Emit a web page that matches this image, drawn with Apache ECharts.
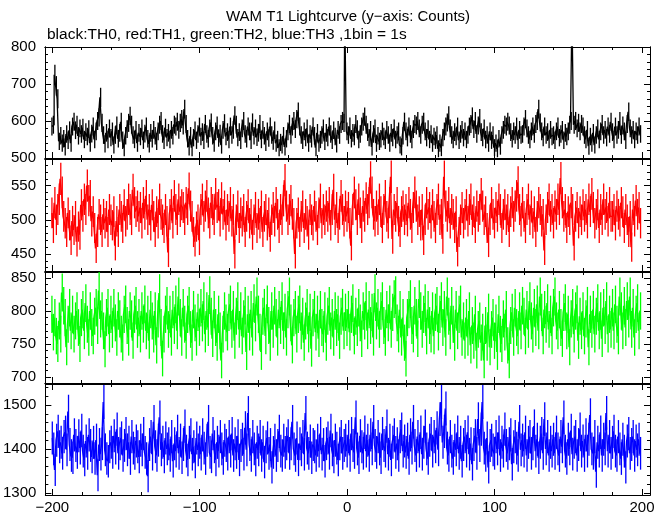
<!DOCTYPE html>
<html><head><meta charset="utf-8">
<script src="https://cdn.jsdelivr.net/npm/echarts@6/dist/echarts.min.js"></script>
<style>html,body{margin:0;padding:0;background:#fff}#c{width:669px;height:515px}</style>
</head><body><div id="c"></div>
<script>
// ---- data: counts per 1 s bin (bin centres start at -200 s); error bars = sqrt(counts) ----
const binStart = -200, binWidth = 1;
const th0 = [
585,590,725,695,660,545,560,540,552,530,565,548,575,540,585,598,575,590,560,580,
565,582,550,570,558,578,540,566,585,550,572,600,610,664,595,562,538,568,550,580,
555,572,535,562,588,552,568,598,548,528,560,578,595,614,590,562,550,576,540,568,
558,580,548,566,585,552,538,568,552,576,560,545,572,590,600,565,548,582,555,568,
550,576,560,590,585,598,576,595,605,588,632,592,552,530,560,528,555,575,548,565,
585,558,570,548,592,565,552,580,596,560,540,572,588,554,566,535,576,594,558,570,
550,585,562,576,615,590,555,570,548,580,600,565,552,585,572,548,596,560,580,556,
568,592,550,576,560,542,572,554,585,562,546,575,540,550,528,542,535,560,530,552,
572,592,562,585,600,578,605,625,585,562,548,572,555,580,540,565,552,585,560,528,
568,540,550,562,580,545,568,555,585,565,548,575,558,538,576,562,592,600,595,900,
572,562,585,552,568,558,592,578,550,565,585,598,612,590,570,555,576,530,565,580,
540,560,545,552,572,558,548,576,562,540,568,555,580,550,562,572,535,530,560,598,
572,555,585,565,550,578,592,588,600,580,562,590,598,572,555,578,550,565,540,558,
548,562,525,540,528,555,572,585,596,615,580,562,550,570,558,585,548,565,576,555,
572,550,562,585,592,612,578,600,565,588,608,570,555,580,550,562,540,572,548,562,
528,540,525,552,532,562,576,590,585,598,588,570,552,572,562,585,548,576,562,565,
585,605,580,562,550,572,585,565,592,600,632,596,572,555,585,562,570,550,576,558,
562,548,572,585,555,565,576,548,568,558,572,590,600,900,590,600,580,595,572,592,
585,562,550,576,532,558,540,568,535,562,580,550,572,592,562,576,555,585,565,598,
570,550,585,562,576,600,562,588,572,548,592,625,580,562,576,550,572,562,585,565];
const th1 = [
510,488,525,500,515,530,560,540,505,495,482,510,492,470,498,485,505,468,490,478,
522,505,530,515,550,528,535,498,512,488,458,482,508,500,482,508,495,505,482,515,
500,492,512,462,498,482,515,505,488,522,498,508,530,515,500,544,525,512,520,505,
518,495,525,508,535,500,515,492,522,505,482,512,495,530,508,500,488,515,498,452,
508,522,495,535,515,500,530,512,522,518,500,525,515,546,520,505,482,468,490,500,
470,515,530,505,520,535,510,495,525,515,500,538,518,522,498,532,508,520,492,515,
505,525,498,515,450,500,520,488,510,498,515,482,505,522,495,508,478,500,518,488,
508,495,520,482,505,515,492,510,475,500,518,498,525,508,488,515,500,528,558,520,
500,515,528,508,495,450,495,510,482,505,520,488,508,498,478,515,500,492,520,505,
485,510,530,495,515,500,520,505,525,492,515,544,500,518,488,508,535,515,498,520,
505,518,495,462,515,540,522,500,530,510,488,520,505,532,515,525,562,540,508,498,
520,500,530,512,488,515,535,505,495,525,563,472,515,505,525,498,482,512,520,500,
515,498,525,508,488,518,540,520,500,512,492,515,470,500,525,508,518,495,522,505,
488,515,530,500,508,472,563,520,505,525,495,515,508,488,512,453,482,500,518,495,
508,522,498,515,530,500,512,488,520,505,515,538,520,500,512,488,467,500,525,508,
495,518,505,530,515,488,508,522,500,515,482,512,525,505,520,535,555,515,498,525,
505,488,515,530,500,520,495,512,482,505,525,515,498,508,455,500,518,530,505,515,
495,520,508,530,515,561,525,505,515,488,512,500,525,515,462,505,518,495,512,500,
522,505,515,495,530,512,538,518,495,508,522,488,515,500,530,508,518,498,525,505,
505,515,492,520,508,498,525,512,488,515,500,482,505,460,515,498,528,508,518,495];
const th2 = [
795,768,790,762,750,785,765,828,808,790,745,780,805,770,795,765,785,800,775,750,
790,802,770,812,780,760,800,775,762,792,805,778,831,788,800,770,742,790,805,765,
795,772,805,782,760,800,788,765,752,795,810,778,760,800,788,755,795,808,772,790,
765,800,780,810,770,795,755,802,785,765,800,748,788,827,775,728,765,795,808,772,
795,760,802,778,810,770,822,790,760,805,780,755,795,808,772,752,802,782,760,798,
775,805,782,815,765,800,775,824,792,758,802,775,752,795,770,725,765,800,782,768,
798,810,772,802,755,792,815,772,800,762,788,808,738,795,768,802,760,812,782,822,
795,768,738,792,805,762,810,778,752,800,772,808,790,760,802,778,815,770,798,760,
802,822,782,748,790,802,765,795,810,770,792,752,785,805,765,798,743,790,802,768,
795,758,802,775,765,800,752,792,808,770,790,760,800,775,795,755,792,805,770,798,
775,802,768,795,812,762,792,775,805,782,758,800,785,815,770,802,778,798,760,827,
785,805,772,800,815,778,760,802,782,810,772,798,818,824,782,765,802,760,790,752,
728,790,802,818,778,765,808,790,758,818,800,772,795,812,762,802,778,765,800,762,
798,808,768,795,815,775,802,760,822,792,770,808,780,752,802,770,795,810,760,785,
755,790,760,800,748,778,755,795,740,772,785,752,768,725,778,752,798,745,772,790,
755,782,738,795,765,750,788,768,802,748,725,778,798,760,805,775,762,800,770,808,
792,762,802,772,815,785,765,805,775,810,770,822,798,762,802,780,812,772,795,762,
805,822,785,770,802,775,758,798,812,770,795,745,788,805,765,800,810,755,792,770,
800,762,788,808,745,795,772,802,765,792,812,770,800,758,805,778,815,765,795,772,
805,770,810,780,762,822,800,770,808,775,815,788,822,772,805,760,795,812,770,800];
const th3 = [
1425,1400,1352,1420,1440,1405,1415,1390,1428,1438,1398,1485,1410,1385,1380,1432,1408,1392,1430,1402,
1442,1395,1375,1418,1390,1432,1408,1382,1415,1378,1420,1340,1410,1388,1412,1507,1398,1378,1372,1405,
1415,1392,1430,1402,1445,1390,1412,1425,1385,1408,1435,1398,1415,1378,1428,1402,1390,1418,1405,1382,
1420,1398,1435,1392,1378,1338,1410,1428,1388,1462,1405,1385,1420,1472,1398,1415,1382,1425,1400,1412,
1385,1428,1372,1412,1395,1440,1390,1420,1380,1410,1452,1395,1375,1415,1432,1388,1405,1370,1425,1398,
1415,1388,1432,1402,1378,1420,1462,1392,1382,1435,1405,1375,1415,1395,1428,1400,1378,1420,1408,1388,
1428,1395,1435,1385,1412,1392,1430,1375,1408,1422,1388,1448,1398,1482,1410,1385,1428,1400,1375,1415,
1398,1428,1385,1415,1370,1405,1425,1390,1410,1358,1392,1420,1385,1408,1440,1395,1385,1420,1392,1412,
1430,1390,1412,1462,1400,1385,1425,1375,1412,1398,1428,1388,1482,1402,1390,1418,1380,1410,1405,1385,
1420,1395,1435,1388,1410,1372,1412,1425,1390,1442,1398,1382,1420,1402,1375,1412,1428,1390,1408,1420,
1395,1428,1385,1435,1408,1392,1472,1400,1380,1430,1405,1390,1438,1395,1420,1385,1432,1400,1462,1408,
1392,1428,1400,1380,1435,1408,1395,1452,1388,1420,1375,1415,1432,1392,1412,1385,1428,1445,1395,1418,
1392,1422,1378,1432,1402,1462,1408,1385,1428,1395,1438,1388,1415,1452,1400,1378,1420,1435,1395,1428,
1405,1448,1398,1468,1507,1415,1440,1492,1402,1385,1428,1395,1378,1420,1398,1438,1390,1415,1372,1410,
1428,1395,1438,1388,1412,1365,1410,1430,1390,1468,1408,1445,1507,1402,1385,1425,1358,1408,1420,1398,
1390,1428,1400,1438,1385,1415,1395,1445,1408,1390,1412,1432,1365,1405,1428,1402,1385,1462,1398,1420,
1395,1438,1385,1415,1428,1390,1412,1452,1395,1422,1380,1415,1435,1390,1468,1400,1428,1385,1415,1395,
1422,1390,1438,1400,1385,1428,1405,1472,1395,1378,1422,1400,1442,1388,1415,1428,1385,1410,1445,1395,
1418,1385,1432,1395,1422,1477,1400,1390,1428,1348,1415,1395,1438,1385,1422,1400,1482,1395,1428,1390,
1415,1440,1395,1385,1428,1400,1378,1422,1395,1358,1418,1435,1390,1410,1428,1385,1418,1398,1422,1390];

// tick labels
const xMajorTicks = [-200, -100, 0, 100, 200];
const yMajorTicks = [[500, 600, 700, 800], [450, 500, 550], [700, 750, 800, 850], [1300, 1400, 1500]];

const titleText = 'WAM T1 Lightcurve (y\u2212axis: Counts)';
const subText = 'black:TH0, red:TH1, green:TH2, blue:TH3 ,1bin = 1s';

// ---- layout / style ----
const XMIN = -204.7, XMAX = 205.4;
const panels = [
  {data: th0, color: '#000000', top: 47,  height: 111, min: 500,  max: 800,  minor: 20},
  {data: th1, color: '#ff0000', top: 159, height: 112, min: 425,  max: 589,  minor: 10},
  {data: th2, color: '#00ff00', top: 272, height: 111, min: 691,  max: 859,  minor: 10},
  {data: th3, color: '#0000ff', top: 384, height: 111, min: 1295, max: 1548, minor: 20}
];
const FONT = '"Liberation Sans", Arial, Helvetica, sans-serif';
const LW = 1.3;

function minorValues(lo, hi, step, majors) {
  const out = [];
  const start = Math.ceil(lo / step) * step;
  for (let v = start; v <= hi; v += step) if (majors.indexOf(v) < 0) out.push(v);
  return out;
}
const xMinorTicks = minorValues(XMIN, XMAX, 20, xMajorTicks);
const minusFmt = v => String(v).replace('-', '\u2212');

const grids = [], xAxes = [], yAxes = [], series = [];
panels.forEach((p, i) => {
  grids.push({left: 45, right: 19, top: p.top, height: p.height, containLabel: false});
  const yMinor = minorValues(p.min, p.max, p.minor, yMajorTicks[i]);
  const mkX = (pos, vals, len, label) => ({
    type: 'value', gridIndex: i, position: pos, min: XMIN, max: XMAX,
    axisLine: {show: true, onZero: false, lineStyle: {color: '#000', width: 1}},
    axisTick: {show: true, inside: true, length: len, customValues: vals, lineStyle: {color: '#000', width: 1}},
    axisLabel: {show: label, customValues: vals, formatter: minusFmt, color: '#000', fontSize: 15, fontFamily: FONT, margin: 5},
    splitLine: {show: false}
  });
  const mkY = (pos, vals, len, label) => ({
    type: 'value', gridIndex: i, position: pos, min: p.min, max: p.max,
    axisLine: {show: true, onZero: false, lineStyle: {color: '#000', width: 1}},
    axisTick: {show: true, inside: true, length: len, customValues: vals, lineStyle: {color: '#000', width: 1}},
    axisLabel: {show: label, customValues: vals, formatter: v => String(v), color: '#000', fontSize: 15, fontFamily: FONT, margin: 9},
    splitLine: {show: false}
  });
  const xBase = xAxes.length, yBase = yAxes.length;
  xAxes.push(mkX('bottom', xMajorTicks, 6, i === 3));
  xAxes.push(mkX('bottom', xMinorTicks, 3, false));
  xAxes.push(mkX('top', xMajorTicks, 6, false));
  xAxes.push(mkX('top', xMinorTicks, 3, false));
  yAxes.push(mkY('left', yMajorTicks[i], 6, true));
  yAxes.push(mkY('left', yMinor, 3, false));
  yAxes.push(mkY('right', yMajorTicks[i], 6, false));
  yAxes.push(mkY('right', yMinor, 3, false));
  const pts = p.data.map((v, k) => [binStart + k * binWidth, v, Math.sqrt(v)]);
  // histogram-style step line through the bin values
  series.push({
    type: 'line', xAxisIndex: xBase, yAxisIndex: yBase, step: 'middle',
    symbol: 'none', showSymbol: false, clip: true, silent: true,
    lineStyle: {color: p.color, width: LW},
    data: pts.map(d => [d[0], d[1]])
  });
  // vertical error bars (+/- sqrt(counts))
  series.push({
    type: 'custom', xAxisIndex: xBase, yAxisIndex: yBase, silent: true, clip: true,
    data: pts,
    renderItem: (params, api) => {
      const cs = params.coordSys;
      const x = api.value(0), v = api.value(1), e = api.value(2);
      const a = api.coord([x, v + e]), b = api.coord([x, v - e]);
      const y1 = Math.max(cs.y, Math.min(cs.y + cs.height, a[1]));
      const y2 = Math.max(cs.y, Math.min(cs.y + cs.height, b[1]));
      return {type: 'line', shape: {x1: a[0], y1: y1, x2: b[0], y2: y2},
              style: {stroke: p.color, lineWidth: LW}};
    }
  });
});

const chart = echarts.init(document.getElementById('c'), null, {renderer: 'canvas'});
chart.setOption({
  animation: false,
  backgroundColor: '#ffffff',
  grid: grids, xAxis: xAxes, yAxis: yAxes, series: series,
  graphic: [
    {type: 'text', x: 348, y: 17, style: {text: titleText, fill: '#000', font: '15px ' + FONT, align: 'center', verticalAlign: 'middle'}},
    {type: 'text', x: 47, y: 35, style: {text: subText, fill: '#000', font: '15.5px ' + FONT, align: 'left', verticalAlign: 'middle'}}
  ]
});
</script></body></html>
